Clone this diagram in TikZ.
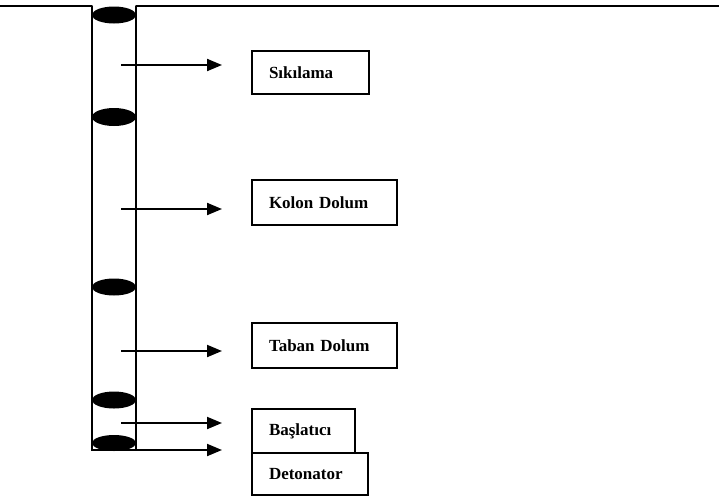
\documentclass[tikz,border=0pt]{standalone}
\usepackage{fontspec}
\setmainfont{Liberation Serif}
\usetikzlibrary{arrows.meta}
\begin{document}
\begin{tikzpicture}[x=1pt,y=-1pt,
  ln/.style={line width=2pt,line cap=round},
  ground/.style={line width=2.8pt},
  plug/.style={fill=black,draw=none},
  arr/.style={line width=2pt,-{Triangle[length=15pt,width=12pt]}},
  box/.style={draw,line width=2pt,anchor=north west,inner xsep=17pt,inner ysep=0pt,
    align=left,font=\fontsize{17}{19}\selectfont\bfseries}]
\useasboundingbox (0,0) rectangle (719,499);
% ground surface
\coordinate (g0) at (0,6);
\coordinate (gl) at (92,6);
\coordinate (gr) at (136,6);
\coordinate (g1) at (719,6);
\draw[ground] (g0) -- (gl);
\draw[ground] (gr) -- (g1);
% hole
\coordinate (hbl) at (92,450);
\coordinate (hbr) at (136,450);
\draw[ln] (gl) -- (hbl) -- (hbr) -- (gr);
% plugs
\foreach \y/\r in {15/8.5,117/9,287/8.5,400/8.5,443/8}
  \fill[plug] (114,\y) ellipse (22 and \r);
% boxes
\node[box,minimum width=117pt,minimum height=43pt,text width=83pt] (sik) at (251,50) {S\i k\i lama};
\node[box,minimum width=145pt,minimum height=45pt,text width=111pt] (kol) at (251,179) {Kolon Dolum};
\node[box,minimum width=145pt,minimum height=45pt,text width=111pt] (tab) at (251,322) {Taban Dolum};
\node[box,minimum width=103pt,minimum height=44pt,text width=69pt] (bas) at (251,408) {Başlatıcı};
\node[box,minimum width=116pt,minimum height=42pt,text width=82pt] (det) at (251,452) {Detonator};
% arrows
\foreach \n/\y in {a/65,b/209,c/351,d/423}{
  \coordinate (s\n) at (121,\y);
  \coordinate (e\n) at (222,\y);
  \draw[arr] (s\n) -- (e\n);
}
\coordinate (ee) at (222,450);
\draw[arr] (hbr) -- (ee);
\end{tikzpicture}
\end{document}
